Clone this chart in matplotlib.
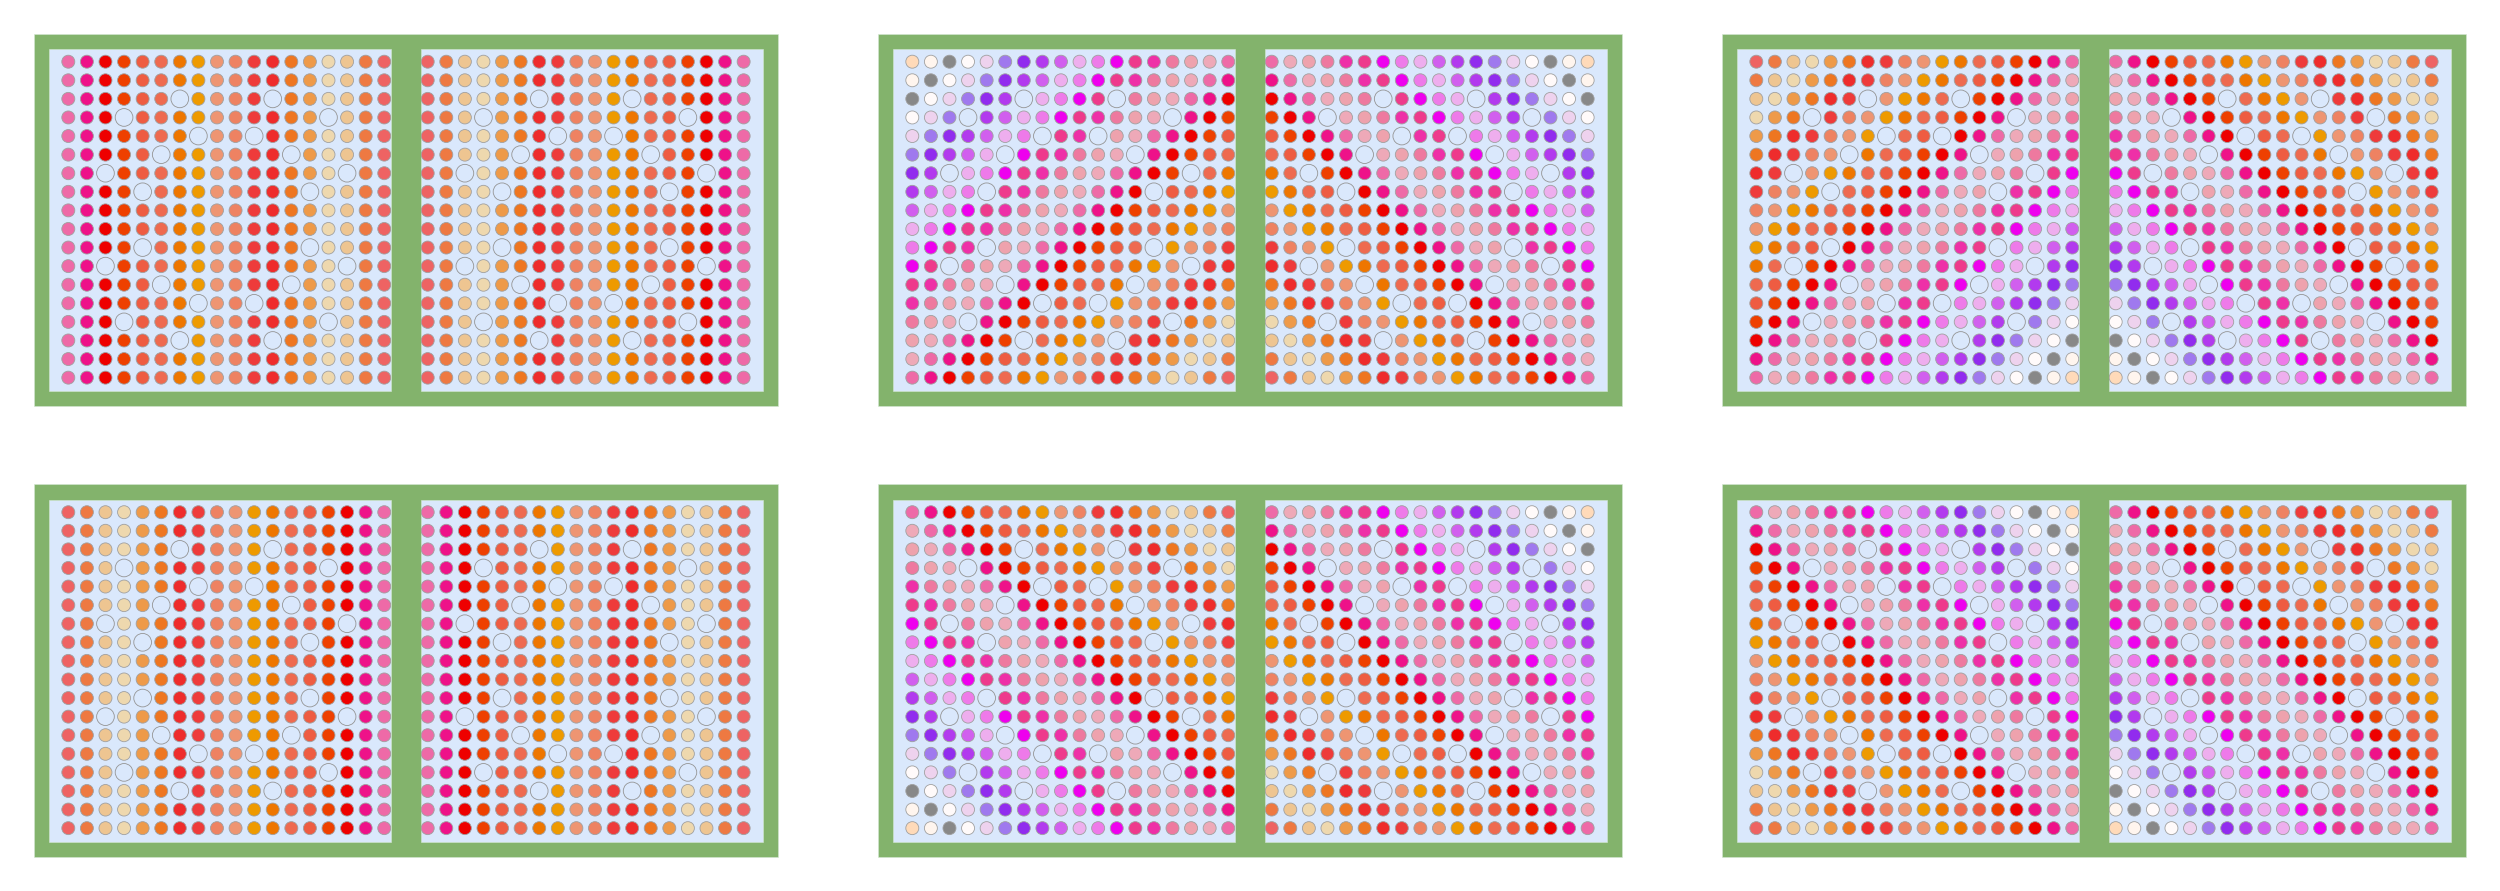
import matplotlib
matplotlib.use("Agg")
import matplotlib.pyplot as plt
from matplotlib.patches import Circle, Rectangle

FIG_W, FIG_H = 2500, 891

# X11 colour sequence read from the pins, index 0..34
PIN_COLORS = [
    "#FFDAB9", "#FFF5EE", "#888888", "#FFFAFA", "#EED2EE", "#9F79EE", "#912CEE",
    "#B23AEE", "#D15FEE", "#EEAEEE", "#EE7AE9", "#EE00EE", "#EE3A8C", "#EE30A7",
    "#EE799F", "#EEA2AD", "#EEA9B8", "#EE6AA7", "#EE1289", "#EE0000", "#EE4000",
    "#EE5C42", "#EE6A50", "#EE7600", "#EE9A00", "#EE9572", "#EE8262", "#EE3B3B",
    "#EE2C2C", "#EE7621", "#EE9A49", "#EED8AE", "#EEC591", "#EE7942", "#EE6363",
]

# Empty (guide tube) positions in an 18 x 18 block
TUBE_ROWS = [2, 2, 3, 3, 4, 4, 5, 5, 6, 6, 7, 7, 10, 10, 11, 11, 12, 12, 13, 13, 14, 14, 15, 15]
TUBE_COLS = [6, 11, 3, 14, 7, 10, 5, 12, 2, 15, 4, 13, 4, 13, 2, 15, 5, 12, 7, 10, 3, 14, 6, 11]

# Colour of top-left pin, and change of colour index per column / per row
# Order: panel 1 to 6 (left to right, top row first), each (left block, right block)
TOP_LEFT_INDEX = [(17, 34), (0, 17), (34, 17), (34, 17), (17, 17), (17, 17)]
COLUMN_STEP = [(1, -1), (1, -1), (-1, 1), (-1, 1), (1, -1), (-1, 1)]
ROW_STEP = [(0, 0), (1, 1), (-1, -1), (0, 0), (-1, 1), (1, -1)]

# Panel left / top edges in pixels
PANEL_LEFT = [34, 878, 1722, 34, 878, 1722]
PANEL_TOP = [34, 34, 34, 484.5, 484.5, 484.5]
PANEL_W, PANEL_H = 743.3, 371.7
PX_PER_CM = 14.75

GREEN = "#83B36C"
GREEN_EDGE = "#D5E8D4"
BLUE = "#DAE8FC"
PIN_EDGE = "#A0A0A0"
TUBE_EDGE = "#949494"

PIN_R = 0.44
TUBE_R = 0.6
PITCH = 1.26
BLOCK_LEFT = (15 / PX_PER_CM, 386.7 / PX_PER_CM)
BLOCK_TOP = 15 / PX_PER_CM
BLOCK_SIZE = 342 / PX_PER_CM
FIRST_X = (34.3 / PX_PER_CM, 393.7 / PX_PER_CM)
FIRST_Y = 27.7 / PX_PER_CM
LW = 0.6
GROW = 0.5 / PX_PER_CM

fig = plt.figure(figsize=(FIG_W / 100, FIG_H / 100), dpi=100, facecolor="white")

for p in range(6):
    ax = fig.add_axes([PANEL_LEFT[p] / FIG_W,
                       1 - (PANEL_TOP[p] + PANEL_H) / FIG_H,
                       PANEL_W / FIG_W, PANEL_H / FIG_H])
    ax.set_xlim(0, PANEL_W / PX_PER_CM)
    ax.set_ylim(PANEL_H / PX_PER_CM, 0)
    ax.axis("off")
    ax.add_patch(Rectangle((-GROW, -GROW), PANEL_W / PX_PER_CM + 2 * GROW,
                           PANEL_H / PX_PER_CM + 2 * GROW,
                           facecolor=GREEN, edgecolor=GREEN_EDGE, linewidth=0.4,
                           clip_on=False))
    for b in range(2):
        block = Rectangle((BLOCK_LEFT[b], BLOCK_TOP), BLOCK_SIZE, BLOCK_SIZE,
                          facecolor=BLUE, edgecolor=GREEN_EDGE, linewidth=0.4)
        ax.add_patch(block)
        tubes = set(zip(TUBE_ROWS, TUBE_COLS))
        for r in range(18):
            for c in range(18):
                x = FIRST_X[b] + c * PITCH
                y = FIRST_Y + r * PITCH
                if (r, c) in tubes:
                    pin = Circle((x, y), TUBE_R, facecolor=BLUE,
                                 edgecolor=TUBE_EDGE, linewidth=LW)
                else:
                    k = TOP_LEFT_INDEX[p][b] + COLUMN_STEP[p][b] * c + ROW_STEP[p][b] * r
                    pin = Circle((x, y), PIN_R, facecolor=PIN_COLORS[k],
                                 edgecolor=PIN_EDGE, linewidth=LW)
                ax.add_patch(pin)
                pin.set_clip_path(block)

fig.savefig("out.png", dpi=100, facecolor="white")
